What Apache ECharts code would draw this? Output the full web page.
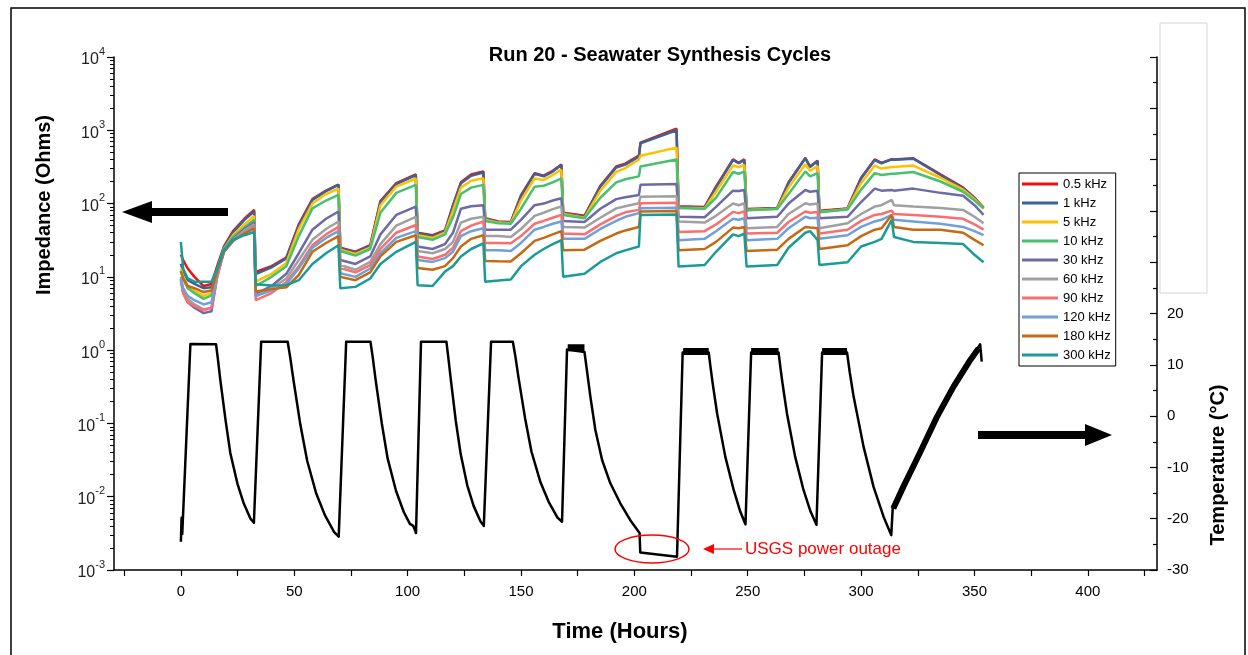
<!DOCTYPE html>
<html>
<head>
<meta charset="utf-8">
<title>Run 20 - Seawater Synthesis Cycles</title>
<script src="https://cdn.jsdelivr.net/npm/echarts@6/dist/echarts.min.js"></script>
<style>
  html, body { margin: 0; padding: 0; background: #fff; }
  #main { width: 1248px; height: 655px; }
</style>
</head>
<body>
<div id="main"></div>
<script>
// legend names and line colours
var freqNames = ['0.5 kHz', '1 kHz', '5 kHz', '10 kHz', '30 kHz', '60 kHz', '90 kHz', '120 kHz', '180 kHz', '300 kHz'];
var freqColors = ['#ee1111', '#3a6496', '#ffc000', '#47c16e', '#6d6aa6', '#a0a0a0', '#fb6e6e', '#70a0d8', '#c56a14', '#1a9b98'];

// impedance sample times (hours)
var impHours = [0, 1, 3, 6, 10, 13.5, 16, 19, 23, 28, 32.3, 33, 40, 46.5, 52, 58, 64, 69.5, 70.3, 77, 83.5,
  88, 95, 103.6, 104.4, 111, 116.5, 120, 123.5, 128, 133.4, 134.2, 140, 145.5, 150, 156, 160, 164, 167.8,
  168.6, 178, 185, 192, 196, 202, 202.7, 218.6, 219.5, 231, 236, 243.5, 246, 248.5, 249.5, 263, 268, 275.4,
  277.5, 280.8, 281.6, 294, 300, 306, 309, 313.5, 314.5, 323, 335, 345, 350, 354];

// impedance (Ohms) per frequency
var z05 = [20, 17, 13, 10, 7.5, 8, 14, 26, 42, 62, 82, 11.7, 14, 18.3, 52, 115, 150, 182, 25, 22, 27, 108, 190, 250, 40, 37, 43, 95, 195, 250, 275, 63, 57, 56, 130, 260, 240, 280, 340, 75, 68, 175, 320, 350, 450, 680, 1050, 92, 90, 170, 400, 360, 400, 84, 87, 195, 420, 320, 385, 80, 86, 225, 400, 360, 405, 400, 415, 250, 165, 120, 88];
var z1 = [15, 12, 9, 8, 7, 7.2, 13, 25, 40, 60, 78, 10.9, 13.5, 17.8, 50, 112, 148, 180, 24.6, 21.5, 26.5, 105, 185, 245, 39, 36, 42, 92, 190, 240, 265, 62, 56, 55, 125, 255, 235, 273, 336, 74, 66, 170, 310, 340, 437, 665, 1000, 90, 88, 165, 393, 355, 393, 82, 86, 190, 415, 315, 380, 78, 85, 220, 393, 355, 400, 395, 410, 245, 162, 118, 86];
var z5 = [13, 10, 7.5, 6.5, 5.5, 6, 12, 24, 37, 52, 68, 8.6, 11, 15.5, 45, 100, 135, 160, 23.5, 20.5, 25, 95, 170, 220, 37, 34, 40, 80, 165, 205, 221, 60, 55, 54, 110, 220, 210, 245, 290, 72, 64, 150, 270, 305, 400, 450, 580, 88, 86, 145, 330, 315, 336, 82, 85, 165, 345, 280, 325, 77, 84, 190, 330, 300, 315, 315, 330, 225, 155, 115, 86];
var z10 = [12, 9.5, 7, 6, 5, 5.6, 12, 24, 35, 47, 60, 7.5, 10, 14, 36, 86, 110, 131, 22.5, 19.5, 24, 75, 140, 180, 35, 32, 38, 65, 135, 165, 180, 58, 54, 53, 85, 170, 175, 195, 221, 70, 63, 120, 195, 215, 235, 320, 400, 87, 85, 120, 270, 255, 273, 81, 84, 135, 275, 235, 260, 76, 83, 155, 260, 245, 255, 255, 270, 200, 145, 110, 86];
var z30 = [9, 6, 4.5, 3.8, 3.2, 3.4, 10, 23, 33, 45, 55, 5.9, 7.5, 11, 21, 44, 62, 78, 17, 15, 19, 38, 70, 91, 26, 24, 28, 40, 85, 92, 95, 44, 44, 44, 60, 95, 100, 110, 118, 58, 56, 85, 115, 122, 131, 180, 185, 66, 65, 90, 150, 148, 153, 63, 66, 100, 153, 145, 150, 63, 66, 105, 160, 150, 153, 150, 160, 140, 128, 95, 70];
var z60 = [9.5, 6.5, 5, 4.2, 3.6, 3.8, 10.5, 23, 32, 43, 52, 5.4, 7, 9.5, 17, 32, 45, 57, 14.5, 12.5, 16, 28, 50, 66, 22.5, 21, 24, 30, 55, 62, 66, 36, 36, 35, 45, 68, 75, 84, 91, 48, 47, 64, 86, 92, 101, 124, 126, 57, 55, 68, 100, 95, 101, 46, 48, 72, 101, 97, 100, 46, 54, 72, 91, 95, 112, 95, 91, 87, 82, 66, 54];
var z90 = [9, 6, 4.5, 4, 3.5, 3.8, 10, 22, 31, 41, 50, 4.8, 6, 8.5, 14, 27, 38, 48, 13.2, 11.5, 14.5, 24, 40, 51, 19, 17.5, 20, 25, 42, 50, 57, 29, 29, 28.7, 36, 53, 58, 64, 70, 39, 38, 52, 68, 76, 82, 101, 103, 41, 42, 52, 77, 74, 78, 39, 40, 56, 78, 75, 77, 39, 44, 58, 70, 72, 80, 72, 70, 66, 62, 52, 44];
var z120 = [10, 7, 5.5, 4.8, 4.2, 4.5, 11, 22, 31, 40, 48, 5.5, 6.5, 8, 13, 25, 34, 42, 11.2, 10, 13, 21, 34, 42, 17, 16, 18, 22, 36, 42, 46, 23, 23, 22.5, 29, 44, 48, 53, 57, 33, 33, 45, 58, 66, 74, 86, 88, 31.6, 33, 42, 62, 60, 63, 31.6, 33, 46, 66, 63, 64, 33, 37, 48, 57, 60, 70, 60, 57, 53, 48, 42, 37];
var z180 = [12, 9.5, 7.5, 7, 6.2, 6.5, 12, 22, 31, 39, 46, 6.3, 6.8, 7.2, 10.6, 22, 29, 36, 10, 9, 11.5, 19, 30, 37, 13.2, 12.5, 14, 18, 26, 33, 37, 16.5, 16.3, 16.2, 21, 31, 34, 38, 42, 23, 23.5, 31, 39, 43, 48, 78, 79, 23, 24, 30, 47, 46, 48, 22.5, 23.5, 33, 48, 47, 46, 24, 27, 36, 44, 46, 70, 48, 44, 44, 40, 32, 27];
var z300 = [30, 13, 9.5, 8.6, 8.6, 8.6, 13, 23, 32, 37, 41, 7.9, 7.6, 7.7, 9, 15, 21, 27, 7, 7.3, 9.5, 15, 22, 30, 7.7, 7.5, 11.8, 14, 19, 24, 28.7, 8.6, 8.9, 9.2, 14, 20, 24, 28, 31.6, 10, 11, 16, 21, 23, 26, 70, 71, 13.8, 14.5, 22, 38, 36, 39, 13.8, 14.5, 25, 40, 42, 32, 14.5, 15.8, 26, 30, 33, 60, 35, 30, 29, 28, 20, 15.8];
var impValues = [z05, z1, z5, z10, z30, z60, z90, z120, z180, z300];

// temperature (°C) [hours, value]
var tempPoints = [[0, -24.5], [0.3, -19.8], [0.6, -23], [4.2, 14.05], [15.5, 14.0], [16.3, 11.2], [17.4, 7.0], [19.7, -0.8],
  [21.8, -7.2], [24.9, -13.1], [27.7, -17.0], [30.7, -20.0], [32.2, -20.8], [35.4, 14.5], [47.1, 14.5], [48.2, 11.5],
  [49.7, 6.9], [52.7, -1.7], [55.7, -8.7], [59.7, -15.1], [63.5, -19.3], [67.6, -22.6], [69.6, -23.5], [72.9, 14.5],
  [83.6, 14.5], [84.6, 11.5], [85.9, 7.0], [88.6, -1.4], [91.2, -8.3], [94.9, -14.6], [98.3, -18.7], [101.0, -21.0],
  [102.5, -21.4], [103.7, -22.8], [105.9, 14.5], [117.1, 14.5], [117.9, 11.6], [119.0, 7.3], [121.2, -0.8], [123.4, -7.4],
  [126.3, -13.5], [129.1, -17.5], [132.1, -20.5], [133.6, -21.4], [136.8, 14.5], [146.4, 14.5], [147.5, 11.7], [148.9, 7.5],
  [151.8, -0.4], [154.6, -6.9], [158.6, -12.9], [162.2, -16.7], [166.1, -19.8], [168.1, -20.6], [170.3, 13.0], [178.0, 12.5],
  [179.2, 8.5], [180.6, 3.8], [182.8, -2.7], [185.8, -8.6], [189.4, -13.1], [193.8, -17.0], [198.2, -20.3], [202.3, -22.8],
  [202.6, -26.6], [218.8, -27.4], [221.3, 12.4], [232.8, 12.4], [233.6, 9.5], [234.5, 6.5], [236.5, 0.5], [240.1, -7.9],
  [243.8, -14.4], [246.7, -18.6], [249.0, -21.1], [251.5, 12.4], [263.6, 12.4], [264.4, 9.5], [265.3, 6.5], [267.3, 0.5],
  [270.9, -7.9], [274.6, -14.4], [277.7, -18.6], [280.3, -21.2], [282.8, 12.4], [293.8, 12.4], [295.0, 8.5], [296.7, 3.8],
  [301.1, -6.0], [305.5, -13.8], [309.9, -19.6], [313.3, -23.2], [314.0, -17.5], [318.7, -13.7], [326.1, -7.0],
  [333.4, -0.2], [340.7, 5.7], [348.1, 10.9], [352.5, 14.0], [353.2, 10.6]];
// noisy stretches of the temperature record (drawn as a thick band)
var tempNoisePlateaus = [[170.6, 13.3], [178.0, 13.3], [178.0, '-'], [221.5, 12.6], [232.8, 12.6], [232.8, '-'],
  [251.5, 12.6], [263.6, 12.6], [263.6, '-'], [282.8, 12.6], [293.8, 12.6]];
var tempNoiseRamp = [[314.2, -18.0], [318.7, -13.7], [326.1, -7.0], [333.4, -0.2], [340.7, 5.7], [348.1, 10.9], [351.8, 13.2]];

// axis ticks
var hourLabels = [0, 50, 100, 150, 200, 250, 300, 350, 400];
var hourTicks = [-25, 0, 25, 50, 75, 100, 125, 150, 175, 200, 225, 250, 275, 300, 325, 350, 375, 400, 425];

window.onload = function () {
    var myChart = echarts.init(document.getElementById('main'), null, { renderer: 'canvas' });
    var font = '"Liberation Sans", Arial, sans-serif';
    var black = '#000';

    // log minor ticks (2..9 of each decade), placed on a linear copy of the log axis
    var minorLog = [];
    for (var n = -3; n < 4; n++) {
        for (var k = 2; k <= 9; k++) {
            minorLog.push(n + Math.log10(k));
        }
    }

    var series = [];
    for (var i = 0; i < freqNames.length; i++) {
        var vals = impValues[i];
        var data = [];
        for (var j = 0; j < impHours.length && j < vals.length; j++) {
            data.push([impHours[j], vals[j]]);
        }
        series.push({
            name: freqNames[i],
            type: 'line',
            xAxisIndex: 0,
            yAxisIndex: 0,
            data: data,
            showSymbol: false,
            symbol: 'none',
            color: freqColors[i],
            lineStyle: { width: 2.5, color: freqColors[i] },
            z: 3
        });
    }
    // temperature
    series.push({
        name: 'Temperature',
        type: 'line',
        yAxisIndex: 1,
        data: tempPoints,
        symbol: 'none',
        color: black,
        lineStyle: { width: 2.5, color: black, join: 'round' },
        z: 4
    });
    series.push({
        name: 'TempNoise',
        type: 'line',
        yAxisIndex: 1,
        data: tempNoisePlateaus,
        symbol: 'none',
        connectNulls: false,
        color: black,
        lineStyle: { width: 7, color: black },
        z: 4
    });
    series.push({
        name: 'TempRamp',
        type: 'line',
        yAxisIndex: 1,
        data: tempNoiseRamp,
        symbol: 'none',
        color: black,
        lineStyle: { width: 6, color: black },
        z: 4
    });

    var option = {
        animation: false,
        backgroundColor: '#fff',
        textStyle: { fontFamily: font },
        title: {
            text: 'Run 20 - Seawater Synthesis Cycles',
            left: 655,
            top: 40,
            textAlign: 'center',
            textStyle: { fontFamily: font, fontSize: 20, fontWeight: 'bold', color: black }
        },
        legend: {
            data: freqNames,
            orient: 'vertical',
            left: 1019,
            top: 173,
            icon: 'rect',
            itemWidth: 36,
            itemHeight: 3,
            itemGap: 3,
            padding: [3, 5, 3, 3],
            backgroundColor: '#fff',
            borderColor: black,
            borderWidth: 1,
            borderRadius: 0,
            textStyle: { fontFamily: font, fontSize: 13, color: black, lineHeight: 16 },
            selectedMode: false
        },
        grid: {
            left: 114,
            right: 91,
            top: 57,
            bottom: 85,
            outerBoundsMode: 'none'
        },
        xAxis: {
            type: 'value',
            min: -29.5,
            max: 430.5,
            axisLine: { show: true, onZero: false, lineStyle: { color: black, width: 1.5 } },
            axisTick: { show: true, length: 6, customValues: hourTicks, lineStyle: { color: black, width: 1.2 } },
            axisLabel: { customValues: hourLabels, margin: 14, fontSize: 15, color: black, fontFamily: font },
            splitLine: { show: false }
        },
        yAxis: [
            {
                type: 'log',
                logBase: 10,
                min: 0.001,
                max: 10000,
                splitNumber: 7,
                position: 'left',
                axisLine: { show: true, onZero: false, lineStyle: { color: black, width: 1.5 } },
                axisTick: { show: true, length: 7, lineStyle: { color: black, width: 1.2 } },
                axisLabel: {
                    margin: 9,
                    formatter: function (v) {
                        var e = Math.round(Math.log10(v));
                        return '{b|10}{e|' + e + '}';
                    },
                    rich: {
                        b: { fontSize: 16, fontFamily: font, color: '#222', lineHeight: 22, verticalAlign: 'bottom' },
                        e: { fontSize: 11, fontFamily: font, color: '#222', lineHeight: 14, verticalAlign: 'top' }
                    }
                },
                splitLine: { show: false }
            },
            {
                type: 'value',
                min: -30,
                max: 70,
                interval: 10,
                position: 'right',
                axisLine: { show: true, onZero: false, lineStyle: { color: black, width: 1.5 } },
                axisTick: { show: true, inside: true, length: 7, lineStyle: { color: black, width: 1.2 } },
                minorTick: { show: true, splitNumber: 2, length: 4, lineStyle: { color: black, width: 1.2 } },
                axisLabel: {
                    margin: 10,
                    fontSize: 15,
                    color: black,
                    fontFamily: font,
                    formatter: function (v) { return v <= 20 ? String(v) : ''; }
                },
                splitLine: { show: false }
            },
            {
                // minor ticks of the log axis
                type: 'value',
                min: -3,
                max: 4,
                position: 'left',
                axisLine: { show: false, onZero: false },
                axisTick: { show: true, length: 4, customValues: minorLog, lineStyle: { color: black, width: 1 } },
                axisLabel: { show: false },
                splitLine: { show: false }
            }
        ],
        graphic: [
            // outer frame
            { type: 'rect', shape: { x: 11, y: 8, width: 1234, height: 700 }, style: { fill: null, stroke: black, lineWidth: 1.5 }, z: 0, silent: true },
            // blank box covering right axis above 20
            { type: 'rect', shape: { x: 1160, y: 23, width: 47, height: 270 }, style: { fill: '#fff', stroke: '#d6d6d6', lineWidth: 1 }, z: 10, silent: true },
            // axis names
            { type: 'text', x: 44, y: 205, rotation: Math.PI / 2, style: { text: 'Impedance (Ohms)', font: 'bold 20px ' + font, fill: black, textAlign: 'center', textVerticalAlign: 'middle' }, z: 10 },
            { type: 'text', x: 1218, y: 465, rotation: Math.PI / 2, style: { text: 'Temperature (°C)', font: 'bold 20px ' + font, fill: black, textAlign: 'center', textVerticalAlign: 'middle' }, z: 10 },
            { type: 'text', x: 620, y: 632, style: { text: 'Time (Hours)', font: 'bold 22px ' + font, fill: black, textAlign: 'center', textVerticalAlign: 'middle' }, z: 10 },
            // big arrows
            { type: 'polygon', shape: { points: [[122, 212], [152, 201], [152, 208], [228, 208], [228, 216], [152, 216], [152, 223]] }, style: { fill: black }, z: 10 },
            { type: 'polygon', shape: { points: [[1112, 435], [1085, 424], [1085, 431], [978, 431], [978, 439], [1085, 439], [1085, 446]] }, style: { fill: black }, z: 10 },
            // power outage note
            { type: 'ellipse', shape: { cx: 652, cy: 549, rx: 37, ry: 14 }, style: { fill: null, stroke: '#f00', lineWidth: 1.5 }, z: 10 },
            { type: 'line', shape: { x1: 742, y1: 549, x2: 712, y2: 549 }, style: { stroke: '#f00', lineWidth: 1.2 }, z: 10 },
            { type: 'polygon', shape: { points: [[703, 549], [714, 544], [714, 554]] }, style: { fill: '#f00' }, z: 10 },
            { type: 'text', x: 745, y: 549, style: { text: 'USGS power outage', font: '17px ' + font, fill: '#f00', textAlign: 'left', textVerticalAlign: 'middle' }, z: 10 }
        ],
        series: series
    };
    myChart.setOption(option);
};
</script>
</body>
</html>
